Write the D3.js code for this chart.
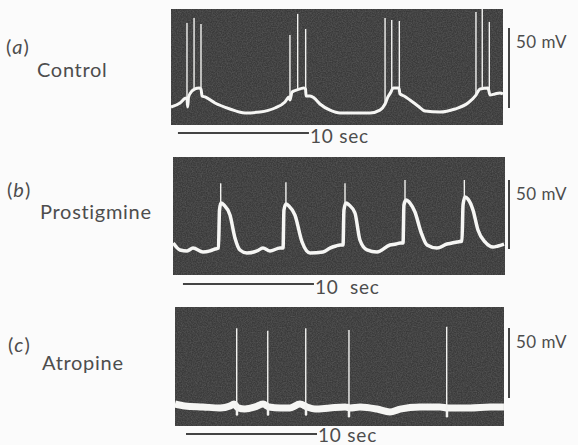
<!DOCTYPE html>
<html>
<head>
<meta charset="utf-8">
<script src="https://cdn.jsdelivr.net/npm/d3@7"></script>
<style>
  body { margin: 0; background: #fbfbfb; }
  svg { display: block; }
  .label { font-family: Lato, "Open Sans", sans-serif; fill: #4d4d4d; }
</style>
</head>
<body>
<svg width="578" height="445"></svg>
<script>
// traces: [time (s), potential (mV, relative to the foot of the 50 mV bar)]
var controlTrace = [
  [0, 0.6], [0.69, 3.1], [1.15, 6.3], [1.22, 5.6], [1.27, 0.6], [1.34, 6.9],
  [1.6, 10.6], [1.83, 11.9], [2.14, 12.5], [2.29, 11.9], [2.37, 7.5], [2.6, 6.9],
  [3.36, 3.1], [4.5, -0.6], [5.65, -3.1], [6.79, -2.5], [7.94, 0], [8.7, 3.8],
  [9.01, 6.9], [9.08, 5.0], [9.24, 10], [9.62, 11.3], [10.15, 12.5], [10.27, 11.9],
  [10.31, 7.5], [10.61, 7.5], [10.92, 6.3], [11.37, 2.5], [12.14, -1.3], [12.9, -3.1],
  [15.19, -3.1], [15.95, -1.3], [16.34, 2.5], [16.56, 6.9], [16.79, 10], [16.95, 12.5],
  [17.4, 12.5], [17.48, 8.8], [17.79, 7.5], [18.24, 5.0], [18.85, 1.3], [19.39, -1.9],
  [20.53, -2.5], [21.68, -0.6], [22.67, 3.1], [23.28, 8.1], [23.59, 11.9], [24.2, 12.5],
  [24.35, 8.1], [24.73, 8.8], [25.11, 9.4], [25.34, 8.8]
];
var controlSpikes = [
  [1.22, 53.1], [1.76, 56.3], [2.29, 52.5], [9.08, 45.6], [9.67, 58.8], [10.28, 49.4],
  [16.34, 56.3], [16.85, 55], [17.43, 54.4], [23.28, 60], [23.76, 61.9], [24.3, 53.8]
];

var prostigmineTrace = [
  [0.02, 4.3], [0.53, -0.7], [1.07, -1.4], [1.53, 0.7], [2.29, -2.2], [2.82, -1.4],
  [3.21, 0], [3.47, 0.7], [3.55, 28.3], [3.66, 33.3], [3.89, 31.9], [4.35, 24.6],
  [4.73, 8.0], [5.11, -0.7], [5.65, -2.9], [6.41, -1.4], [6.87, 0.7], [7.4, -1.4],
  [8.17, 0.7], [8.4, 0.7], [8.47, 28.3], [8.63, 32.6], [8.85, 31.2], [9.31, 24.6],
  [9.85, 5.1], [10.46, -2.9], [11.45, -2.2], [11.98, 0.7], [12.44, 2.2], [12.75, 2.9],
  [12.98, 2.9], [13.05, 28.3], [13.21, 33.3], [13.44, 31.9], [13.89, 26.1], [14.27, 6.5],
  [14.81, -0.7], [15.57, -2.2], [16.56, 2.9], [17.02, 3.6], [17.33, 4.3], [17.56, 4.3],
  [17.63, 31.9], [17.79, 35.5], [18.09, 33.3], [18.47, 26.8], [18.93, 12.3], [19.39, 2.9],
  [20.15, 0.7], [20.92, 3.6], [21.3, 4.3], [21.68, 5.1], [22.06, 5.8], [22.14, 31.9],
  [22.29, 37.7], [22.52, 36.2], [22.9, 28.3], [23.28, 13.8], [23.82, 5.1], [24.43, 1.4],
  [24.81, 2.2], [25.27, 3.6]
];
var prostigmineSpikes = [
  [3.64, 47.6], [8.62, 48.3], [13.13, 47.6], [17.71, 50], [22.24, 50]
];

var atropineTrace = [
  [0, -4.3], [0.76, -5.7], [2.14, -6.4], [3.44, -7.1], [4.2, -5.7], [4.5, -4.3],
  [4.81, -7.1], [5.34, -7.9], [6.11, -6.4], [6.72, -4.3], [7.18, -6.4], [8.02, -7.1],
  [8.78, -7.1], [9.54, -4.3], [10.08, -6.4], [10.69, -7.9], [11.83, -7.1], [12.98, -6.4],
  [13.36, -7.1], [14.12, -6.4], [15.42, -7.9], [16.41, -10], [17.18, -7.9], [18.7, -6.4],
  [20.23, -6.4], [20.84, -7.1], [22.52, -7.1], [24.05, -6.4], [25.11, -6.4]
];
var atropineSpikes = [
  [4.71, 49.8], [7.08, 48.1], [9.98, 49.8], [13.28, 48.6], [20.74, 50.9]
];
// after-dips below each atropine spike
var atropineDips = [
  [4.73, -11.8], [7.1, -11.8], [10.0, -11.8], [13.28, -13], [20.76, -13]
];

var panelTags = ["(a)", "(b)", "(c)"];
var drugNames = ["Control", "Prostigmine", "Atropine"];
var timeBarLabels = ["10 sec", "10\u00a0\u00a0sec", "10 sec"];
var voltBarLabel = "50 mV";
var timeBarStart = [0.53, 0.76, 0.84];

var svg = d3.select("svg");
var pxPerSec = 13.1;

// layout of each photographed record
var layout = [
  { x: 171, y: 9,   w: 332, h: 116, mv: [108, 28],  lw: 3,   tagY: 54,  nameY: 77,  barY: 133 },
  { x: 173, y: 157, w: 332, h: 118, mv: [249, 180], lw: 3.5, tagY: 197, nameY: 219, barY: 284 },
  { x: 175, y: 307, w: 329, h: 119, mv: [398, 328], lw: 7,   tagY: 352, nameY: 370, barY: 434 }
];
var traces = [controlTrace, prostigmineTrace, atropineTrace];
var spikes = [controlSpikes, prostigmineSpikes, atropineSpikes];
var dips = [[], [], atropineDips];
var nameX = [37, 40, 42];
var tagX = [6, 7, 8];

var defs = svg.append("defs");
var grain = defs.append("filter")
    .attr("id", "grain")
    .attr("x", 0).attr("y", 0).attr("width", 1).attr("height", 1);
grain.append("feTurbulence")
    .attr("type", "fractalNoise")
    .attr("baseFrequency", 0.8)
    .attr("numOctaves", 2)
    .attr("seed", 3);
grain.append("feColorMatrix")
    .attr("type", "matrix")
    .attr("values", "0 0 0 0 0.5  0 0 0 0 0.5  0 0 0 0 0.5  0 0 0 0.35 -0.1");

function valueAt(trace, t) {
  var i = d3.bisector(function(d) { return d[0]; }).left(trace, t);
  if (i <= 0) return trace[0][1];
  if (i >= trace.length) return trace[trace.length - 1][1];
  var a = trace[i - 1], b = trace[i];
  return a[1] + (b[1] - a[1]) * (t - a[0]) / (b[0] - a[0]);
}

layout.forEach(function(p, k) {
  var x = d3.scaleLinear()
    .domain([0, p.w / pxPerSec])
    .range([p.x, p.x + p.w]);
  var y = d3.scaleLinear()
    .domain([0, 50])
    .range(p.mv);

  var g = svg.append("g");

  g.append("rect")
    .attr("x", p.x).attr("y", p.y)
    .attr("width", p.w).attr("height", p.h)
    .attr("fill", "#3a3a3a");
  g.append("rect")
    .attr("x", p.x).attr("y", p.y)
    .attr("width", p.w).attr("height", p.h)
    .attr("filter", "url(#grain)");

  var line = d3.line()
    .x(function(d) { return x(d[0]); })
    .y(function(d) { return y(d[1]); })
    .curve(d3.curveMonotoneX);

  g.append("path")
    .datum(traces[k])
    .attr("fill", "none")
    .attr("stroke", "#f6f6f4")
    .attr("stroke-width", p.lw)
    .attr("stroke-linejoin", "round")
    .attr("d", line);

  g.selectAll(".spike")
    .data(spikes[k])
    .enter().append("line")
    .attr("class", "spike")
    .attr("x1", function(d) { return x(d[0]); })
    .attr("x2", function(d) { return x(d[0]); })
    .attr("y1", function(d) { return y(valueAt(traces[k], d[0])); })
    .attr("y2", function(d) { return y(d[1]); })
    .attr("stroke", "#f2f2f0")
    .attr("stroke-width", 1.4);

  g.selectAll(".dip")
    .data(dips[k])
    .enter().append("line")
    .attr("class", "dip")
    .attr("x1", function(d) { return x(d[0]); })
    .attr("x2", function(d) { return x(d[0]); })
    .attr("y1", function(d) { return y(valueAt(traces[k], d[0])); })
    .attr("y2", function(d) { return y(d[1]); })
    .attr("stroke", "#f2f2f0")
    .attr("stroke-width", 2.5)
    .attr("stroke-linecap", "round");

  // 50 mV calibration
  g.append("line")
    .attr("x1", 509).attr("x2", 509)
    .attr("y1", y(0)).attr("y2", y(50))
    .attr("stroke", "#444")
    .attr("stroke-width", 2);
  g.append("text")
    .attr("class", "label")
    .attr("x", 516)
    .attr("y", y(50) + 20)
    .style("font-size", "17px")
    .style("letter-spacing", "0.5px")
    .text(voltBarLabel);

  // 10 sec time bar
  g.append("line")
    .attr("x1", x(timeBarStart[k]))
    .attr("x2", x(timeBarStart[k] + 10))
    .attr("y1", p.barY).attr("y2", p.barY)
    .attr("stroke", "#444")
    .attr("stroke-width", 2);
  g.append("text")
    .attr("class", "label")
    .attr("x", x(timeBarStart[k] + 10) + 1)
    .attr("y", Math.min(p.barY + 10, 442))
    .style("font-size", "19px")
    .style("letter-spacing", "0.8px")
    .text(timeBarLabels[k]);

  var tag = g.append("text")
    .attr("class", "label")
    .attr("x", tagX[k])
    .attr("y", p.tagY)
    .style("font-size", "20px")
    .style("letter-spacing", "1px");
  tag.append("tspan").text("(");
  tag.append("tspan").style("font-style", "italic").text(panelTags[k].slice(1, 2));
  tag.append("tspan").text(")");

  g.append("text")
    .attr("class", "label")
    .attr("x", nameX[k])
    .attr("y", p.nameY)
    .style("font-size", "20px")
    .style("letter-spacing", "0.7px")
    .text(drugNames[k]);
});
</script>
</body>
</html>
